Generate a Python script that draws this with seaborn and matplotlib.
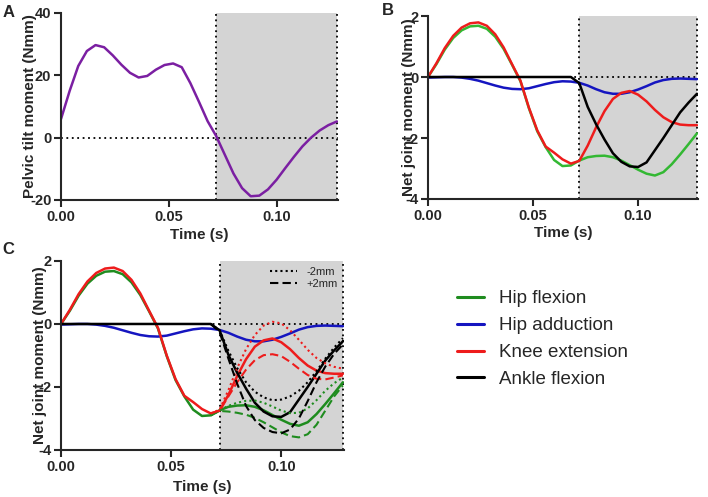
import numpy as np
import pandas as pd
import matplotlib
matplotlib.use("Agg")
import matplotlib.pyplot as plt
from matplotlib.lines import Line2D
import seaborn as sns

# time axis (s), shared by panels A, B and the solid curves of C
time = [0.000, 0.004, 0.008, 0.012, 0.016, 0.020, 0.024, 0.028, 0.032, 0.036, 0.040,
        0.044, 0.048, 0.052, 0.056, 0.060, 0.064, 0.068, 0.072, 0.076, 0.080, 0.084,
        0.088, 0.092, 0.096, 0.100, 0.104, 0.108, 0.112, 0.116, 0.120, 0.124, 0.128]

# panel A
pelvic_tilt = [6.0, 15.0, 23.0, 27.8, 29.7, 29.0, 26.4, 23.4, 20.8, 19.3, 19.8,
               21.8, 23.3, 23.8, 22.6, 17.5, 11.5, 5.3, 0.5, -5.5, -11.5, -16.2,
               -18.8, -18.6, -16.6, -13.5, -9.8, -6.2, -2.8, 0.0, 2.3, 4.0, 5.2]

# panel B / C solid curves
hip_flexion = [0.0, 0.42, 0.90, 1.28, 1.53, 1.66, 1.68, 1.58, 1.32, 0.92, 0.40,
               -0.14, -1.02, -1.78, -2.30, -2.72, -2.92, -2.90, -2.74, -2.63, -2.59, -2.58,
               -2.63, -2.74, -2.89, -3.04, -3.17, -3.23, -3.12, -2.86, -2.54, -2.20, -1.85]
hip_adduction = [-0.02, -0.01, 0.0, 0.0, -0.02, -0.06, -0.12, -0.20, -0.28, -0.35, -0.39,
                 -0.40, -0.37, -0.30, -0.23, -0.17, -0.14, -0.15, -0.19, -0.28, -0.40, -0.50,
                 -0.55, -0.55, -0.50, -0.41, -0.30, -0.18, -0.10, -0.06, -0.05, -0.06, -0.07]
knee_extension = [0.0, 0.45, 0.95, 1.35, 1.62, 1.76, 1.79, 1.68, 1.40, 0.97, 0.42,
                  -0.12, -1.00, -1.75, -2.28, -2.48, -2.70, -2.84, -2.75, -2.25, -1.65, -1.12,
                  -0.72, -0.52, -0.46, -0.58, -0.80, -1.08, -1.32, -1.48, -1.56, -1.58, -1.58]
ankle_flexion = [0.0, 0.0, 0.0, 0.0, 0.0, 0.0, 0.0, 0.0, 0.0, 0.0, 0.0,
                 0.0, 0.0, 0.0, 0.0, 0.0, 0.0, 0.0, -0.20, -0.98, -1.55, -2.05,
                 -2.50, -2.78, -2.93, -2.95, -2.80, -2.40, -2.00, -1.58, -1.16, -0.84, -0.55]

# panel C, +/-2mm perturbations
time_c = [0.068, 0.072, 0.076, 0.080, 0.084, 0.088, 0.092, 0.096,
          0.100, 0.104, 0.108, 0.112, 0.116, 0.120, 0.124, 0.128]
knee_minus = [-2.84, -2.72, -2.10, -1.40, -0.80, -0.35, -0.05, 0.07,
              0.02, -0.20, -0.50, -0.82, -1.08, -1.25, -1.36, -1.42]
knee_plus = [-2.84, -2.75, -2.30, -1.85, -1.45, -1.15, -0.99, -0.96,
             -1.02, -1.20, -1.42, -1.62, -1.74, -1.76, -1.70, -1.63]
hip_minus = [-2.90, -2.74, -2.60, -2.50, -2.44, -2.43, -2.50, -2.62,
             -2.75, -2.83, -2.82, -2.68, -2.42, -2.12, -1.88, -1.70]
hip_plus = [-2.90, -2.76, -2.78, -2.82, -2.88, -2.98, -3.12, -3.28,
            -3.44, -3.56, -3.60, -3.50, -3.20, -2.75, -2.30, -1.95]
ankle_minus = [0.0, -0.20, -0.85, -1.40, -1.85, -2.15, -2.33, -2.42,
               -2.40, -2.30, -2.12, -1.85, -1.50, -1.10, -0.75, -0.45]
ankle_plus = [0.0, -0.25, -1.10, -1.90, -2.60, -3.05, -3.30, -3.43,
              -3.47, -3.35, -3.00, -2.45, -1.85, -1.35, -0.95, -0.65]

joints = ["Hip flexion", "Hip adduction", "Knee extension", "Ankle flexion"]
colors_b = {"Hip flexion": "#33b833", "Hip adduction": "#1515c0",
            "Knee extension": "#ee1c1c", "Ankle flexion": "#000000"}
colors_c = {"Hip flexion": "#1f8c1f", "Hip adduction": "#1515c0",
            "Knee extension": "#ee1c1c", "Ankle flexion": "#000000"}

sns.set_style("ticks")
plt.rcParams["font.family"] = ["Liberation Sans", "DejaVu Sans"]
plt.rcParams["font.weight"] = "bold"
plt.rcParams["axes.unicode_minus"] = False

net = pd.DataFrame({
    "time": time * 4,
    "moment": hip_flexion + hip_adduction + knee_extension + ankle_flexion,
    "joint": np.repeat(joints, len(time)),
})
pert = pd.DataFrame({
    "time": time_c * 6,
    "moment": hip_minus + hip_plus + knee_minus + knee_plus + ankle_minus + ankle_plus,
    "joint": np.repeat(["Hip flexion", "Hip flexion", "Knee extension", "Knee extension",
                        "Ankle flexion", "Ankle flexion"], len(time_c)),
    "offset": np.tile(np.repeat(["-2mm", "+2mm"], len(time_c)), 3),
})

fig = plt.figure(figsize=(7.08, 4.97), dpi=100)
ax_a = fig.add_axes([0.0862, 0.5976, 0.3912, 0.3763])
ax_b = fig.add_axes([0.6045, 0.5996, 0.3814, 0.3682])
ax_c = fig.add_axes([0.0862, 0.0946, 0.3997, 0.3803])


def style_axis(ax, ylim, yticks, ylabel, ylab_x, xlab_y):
    ax.axvspan(0.072, 0.128, color="#d4d4d4", lw=0, zorder=0)
    for xv in (0.072, 0.128):
        ax.axvline(xv, color="black", lw=1.3, ls=(0, (1, 2)), zorder=1)
    ax.axhline(0, color="black", lw=1.3, ls=(0, (1, 2)), zorder=1)
    ax.set_xlim(0, 0.1285)
    ax.set_ylim(*ylim)
    ax.set_xticks([0.0, 0.05, 0.10])
    ax.set_xticklabels(["0.00", "0.05", "0.10"])
    ax.set_yticks(yticks)
    ax.set_yticklabels([str(v) for v in yticks])
    ax.tick_params(direction="out", length=5, width=1.5, labelsize=10.5, pad=2)
    for side in ("top", "right"):
        ax.spines[side].set_visible(False)
    for side in ("left", "bottom"):
        ax.spines[side].set_linewidth(1.5)
    ax.set_xlabel("Time (s)", fontsize=11, fontweight="bold")
    ax.set_ylabel(ylabel, fontsize=11, fontweight="bold")
    ax.yaxis.set_label_coords(ylab_x, 0.5)
    ax.xaxis.set_label_coords(0.5, xlab_y)


# A
sns.lineplot(x=time, y=pelvic_tilt, color="#7b1fa2", lw=1.8, ax=ax_a)
style_axis(ax_a, (-20, 40), [-20, 0, 20, 40], "Pelvic tilt moment (Nmm)", -0.087, -0.15)

# B
sns.lineplot(data=net, x="time", y="moment", hue="joint", hue_order=joints,
             palette=colors_b, lw=1.8, legend=False, ax=ax_b)
style_axis(ax_b, (-4, 2), [-4, -2, 0, 2], "Net joint moment (Nmm)", -0.044, -0.148)

# C
sns.lineplot(data=net, x="time", y="moment", hue="joint", hue_order=joints,
             palette=colors_c, lw=1.8, legend=False, ax=ax_c)
sns.lineplot(data=pert, x="time", y="moment", hue="joint", style="offset",
             palette=colors_c, dashes={"-2mm": (1, 1.5), "+2mm": (4, 2)},
             lw=1.5, legend=False, ax=ax_c)
style_axis(ax_c, (-4, 2), [-4, -2, 0, 2], "Net joint moment (Nmm)", -0.05, -0.158)
ax_c.legend(handles=[Line2D([], [], color="black", lw=1.5, ls=(0, (1, 1.5))),
                     Line2D([], [], color="black", lw=1.5, ls=(0, (4, 2)))],
            labels=["-2mm", "+2mm"], loc="upper right", frameon=False,
            prop={"size": 8, "weight": "normal"}, handlelength=2.4,
            handletextpad=0.9, labelspacing=0.2, borderaxespad=0.15)

# panel letters
fig.text(0.004, 0.975, "A", fontsize=12, fontweight="bold", va="center")
fig.text(0.539, 0.978, "B", fontsize=12, fontweight="bold", va="center")
fig.text(0.004, 0.497, "C", fontsize=12, fontweight="bold", va="center")

# shared legend
fig.legend(handles=[Line2D([], [], color=colors_c[j], lw=2.2) for j in joints],
           labels=joints, loc="upper left", bbox_to_anchor=(0.646, 0.416),
           frameon=False, prop={"size": 13.5, "weight": "normal"},
           handlelength=1.4, handletextpad=0.8, labelspacing=0.52,
           borderpad=0, borderaxespad=0)

fig.savefig("out.png", dpi=100)
